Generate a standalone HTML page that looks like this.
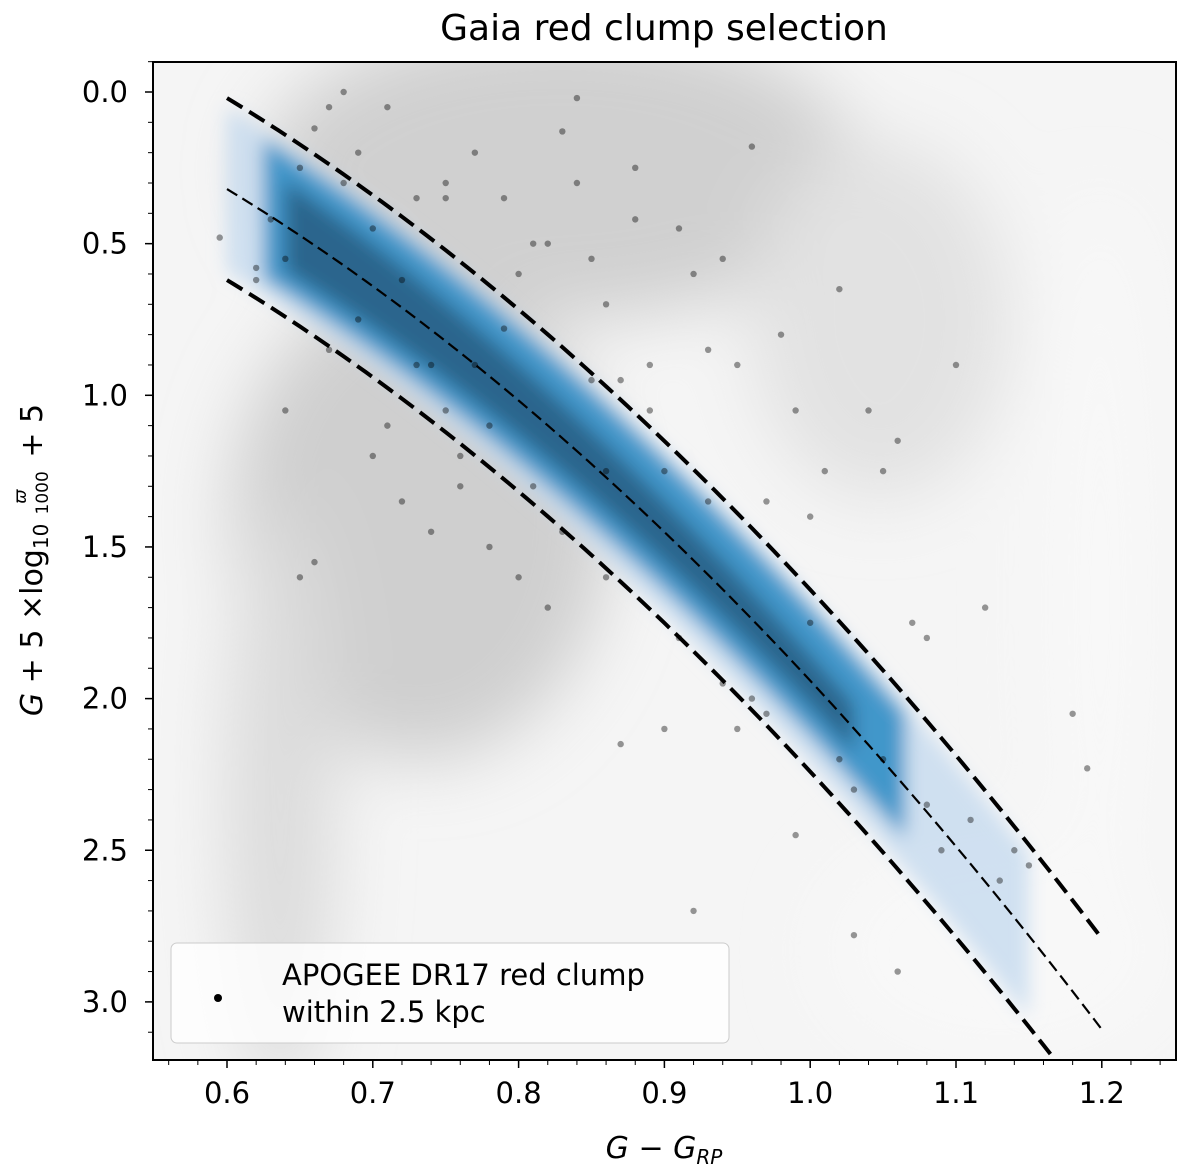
<!DOCTYPE html>
<html><head><meta charset="utf-8"><style>
body{margin:0;background:#fff;}
svg{display:block;font-family:"DejaVu Sans","Liberation Sans",sans-serif;}
</style></head><body>
<svg id="chart" width="1200" height="1171" viewBox="0 0 1200 1171" xmlns="http://www.w3.org/2000/svg">
<defs>
<filter id="blur30" x="-50%" y="-50%" width="200%" height="200%"><feGaussianBlur stdDeviation="35"/></filter>
<filter id="blur12" x="-50%" y="-50%" width="200%" height="200%"><feGaussianBlur stdDeviation="9"/></filter>
<clipPath id="plotclip"><rect x="153" y="62" width="1023" height="998"/></clipPath>
</defs>
<text x="664" y="40" font-size="36" text-anchor="middle">Gaia red clump selection</text>
<g clip-path="url(#plotclip)">
<rect x="153" y="62" width="1023" height="998" fill="#f5f5f5"/>
<g id="bg" filter="url(#blur30)">
 <ellipse cx="560" cy="170" rx="300" ry="150" fill="#d0d0d0"/>
 <ellipse cx="420" cy="520" rx="190" ry="240" fill="#cfcfcf"/>
 <ellipse cx="280" cy="800" rx="55" ry="300" fill="#dcdcdc"/>
 <ellipse cx="880" cy="320" rx="130" ry="180" fill="#e2e2e2"/>
 <ellipse cx="1100" cy="600" rx="60" ry="400" fill="#f8f8f8"/>
 <ellipse cx="1000" cy="950" rx="180" ry="120" fill="#f8f8f8"/>
</g>
<g id="band"></g>
<g id="points"></g>
<g id="curves"></g>
</g>
<rect x="153" y="62" width="1023" height="998" fill="none" stroke="#000" stroke-width="2"/>
<g id="axes"></g>
<text x="664" y="1158" font-size="30" text-anchor="middle" font-style="italic">G − G<tspan font-size="20" dy="6">RP</tspan></text>
<text transform="translate(42,560) rotate(-90)" font-size="30" text-anchor="middle"><tspan font-style="italic">G</tspan> + 5 ×log<tspan font-size="20" dy="6">10</tspan><tspan font-size="17" dy="-22" dx="20" font-style="italic">ϖ</tspan><tspan font-size="17" dy="22" dx="-25">1000</tspan><tspan dy="-6" dx="4"> + 5</tspan></text>
<g>
 <rect x="171" y="943" width="558" height="100" rx="6" fill="#fff" fill-opacity="0.8" stroke="#ccc"/>
 <circle cx="218" cy="998" r="4" fill="#000"/>
 <text x="282" y="985" font-size="29">APOGEE DR17 red clump</text>
 <text x="282" y="1022" font-size="29">within 2.5 kpc</text>
</g>
</svg>
<script>
const xTicks=[0.6,0.7,0.8,0.9,1.0,1.1,1.2];
const yTicks=[0.0,0.5,1.0,1.5,2.0,2.5,3.0];
const curveOffsets=[-0.3,0,0.3];
const curveCoef=[0.32,2.92,2.83];
const ptsX=[0.595,0.62,0.63,0.64,0.65,0.66,0.67,0.68,0.69,0.70,0.71,0.72,0.73,0.74,0.75,0.76,0.77,0.78,0.79,0.80,0.81,0.82,0.83,0.84,0.85,0.86,0.87,0.88,0.89,0.90,0.91,0.92,0.93,0.94,0.95,0.96,0.97,0.98,0.99,1.00,1.01,1.02,1.03,1.04,1.05,1.06,1.07,1.08,1.10,1.12,0.66,0.70,0.72,0.74,0.78,0.80,0.83,0.87,0.90,0.93,0.97,1.00,1.05,1.08,1.11,1.15,1.19,1.18,0.68,0.77,0.82,0.86,0.91,0.96,1.02,1.09,1.13,0.65,0.75,0.85,0.95,0.99,0.79,0.84,0.88,0.64,0.73,0.81,0.92,0.62,0.76,0.71,0.69,0.94,1.03,1.06,0.67,0.89,1.14,0.75,0.86];
const ptsY=[0.48,0.58,0.42,1.05,0.25,0.12,0.05,0.3,0.2,0.45,0.05,0.62,0.35,0.9,0.3,1.3,0.2,1.1,0.35,0.6,0.5,1.7,0.13,0.3,0.55,1.6,0.95,0.42,0.9,2.1,0.45,0.6,0.85,0.55,0.9,0.18,1.35,0.8,1.05,1.4,1.25,0.65,2.3,1.05,1.25,1.15,1.75,1.8,0.9,1.7,1.55,1.2,1.35,1.45,1.5,1.6,1.45,2.15,1.25,1.35,2.05,1.75,2.2,2.35,2.4,2.55,2.23,2.05,0.0,0.9,0.5,0.7,1.8,2.0,2.2,2.5,2.6,1.6,0.35,0.95,2.1,2.45,0.78,0.02,0.25,0.55,0.9,1.3,2.7,0.62,1.2,1.1,0.75,1.95,2.78,2.9,0.85,1.05,2.5,1.05,1.25];
const ns="http://www.w3.org/2000/svg";
const X0=0.6,PX0=227,PXS=1458,PY0=92,PYS=303.3;
function sx(v){return PX0+(v-X0)*PXS;}
function sy(v){return PY0+v*PYS;}
function mid(x){const t=x-0.6;return curveCoef[0]+curveCoef[1]*t+curveCoef[2]*t*t;}
function mk(tag,a,p){const e=document.createElementNS(ns,tag);for(const k in a)e.setAttribute(k,a[k]);p.appendChild(e);return e;}
function strip(x0,x1,wu,wl){let up=[],lo=[];for(let x=x0;x<=x1+1e-9;x+=0.01){const f=(x-x0)/(x1-x0);up.push(sx(x)+','+sy(mid(x)-wu(f)));lo.push(sx(x)+','+sy(mid(x)+wl(f)));}return 'M'+up.join('L')+'L'+lo.reverse().join('L')+'Z';}
const band=document.getElementById('band');
const g1=mk('g',{filter:'url(#blur12)'},band);
let b1=mk('path',{d:strip(0.6,1.15,f=>0.27,f=>0.27),fill:'#c6dbef',opacity:'0.8'},g1);


let b2=mk('path',{d:strip(0.625,1.07,f=>0.24,f=>0.22-0.05*f),fill:'#3a93c8',opacity:'0.95'},g1);


let b3=mk('path',{d:strip(0.64,1.03,f=>0.15-0.07*f,f=>0.15-0.07*f),fill:'#1c4664',opacity:'0.6'},g1);


const pg=document.getElementById('points');
for(let i=0;i<ptsX.length;i++){const c=mk('circle',{cx:sx(ptsX[i]),cy:sy(ptsY[i]),r:3.2,fill:'#000','fill-opacity':0.4},pg);

}
const cg=document.getElementById('curves');
curveOffsets.forEach((o,i)=>{let d='';for(let x=0.6;x<=1.2001;x+=0.005){d+=(d?'L':'M')+sx(x)+','+sy(mid(x)+o);}
const p=mk('path',{d:d,fill:'none',stroke:'#000','stroke-width':o===0?2.2:4,'stroke-dasharray':o===0?'12,6':'18,8'},cg);

});
const ax=document.getElementById('axes');
xTicks.forEach(v=>{mk('line',{x1:sx(v),x2:sx(v),y1:1060,y2:1068,stroke:'#000','stroke-width':1.5},ax);
const t=mk('text',{x:sx(v),y:1103,'font-size':29,'text-anchor':'middle'},ax);t.textContent=v.toFixed(1);

});
for(let v=0.56;v<1.25;v+=0.02){mk('line',{x1:sx(v),x2:sx(v),y1:1060,y2:1065,stroke:'#000','stroke-width':1},ax);}
yTicks.forEach(v=>{mk('line',{x1:145,x2:153,y1:sy(v),y2:sy(v),stroke:'#000','stroke-width':1.5},ax);
const t=mk('text',{x:128,y:sy(v)+10,'font-size':29,'text-anchor':'end'},ax);t.textContent=v.toFixed(1);

});
for(let v=-0.1;v<3.2;v+=0.1){mk('line',{x1:148,x2:153,y1:sy(v),y2:sy(v),stroke:'#000','stroke-width':1},ax);}
</script>
</body></html>
